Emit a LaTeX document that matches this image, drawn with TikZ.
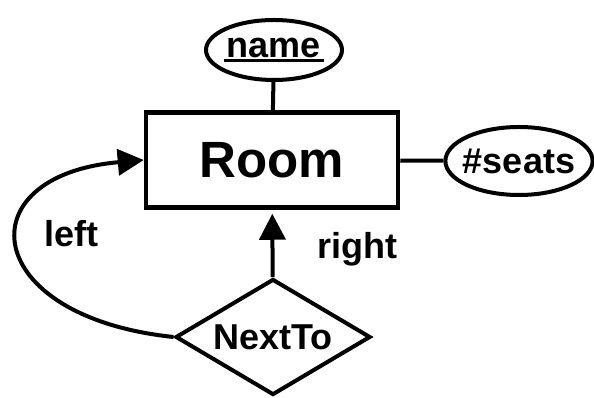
\documentclass[tikz,border=0pt]{standalone}
\usepackage{fontspec}
\setmainfont{Liberation Sans}
\usetikzlibrary{shapes.geometric,arrows.meta}

% thick underline for a key attribute
\newcommand{\keyattr}[1]{\setbox0=\hbox{#1}\rlap{\hspace{-3pt}\rule[-5pt]{\dimexpr\wd0+6pt\relax}{3.5pt}}\box0}

\begin{document}
\begin{tikzpicture}[x=1pt,y=1pt]
  \newcommand{\Xroom}[0]{ 272 }
  \newcommand{\Yroom}[0]{ 238 }
  \newcommand{\Xseats}[0]{ 519 }
  \newcommand{\Yname}[0]{ 348 }
  \newcommand{\Ynextto}[0]{ 61 }
  
  \tikzstyle{edge}  = [line width=4pt,draw=black]
  \tikzstyle{dedge} = [line width=4pt,-{Triangle[length=26pt,width=26pt]},draw=black]
  \tikzstyle{entity}=[
    rectangle,
    draw=black,
    line width=4.5pt,
    minimum width=252pt,
    minimum height=95pt,
    inner sep=0pt,
    font=\fontsize{51}{60}\selectfont\bfseries,
  ]
  \tikzstyle{attr}=[
    ellipse,
    draw=black,
    line width=4pt,
    inner sep=0pt,
    font=\fontsize{36}{42}\selectfont\bfseries,
  ]
  \tikzstyle{relship}=[
    diamond,
    draw=black,
    line width=4pt,
    aspect=1.7,
    inner sep=0pt,
    minimum width=195pt,
    minimum height=116pt,
    font=\fontsize{36}{42}\selectfont\bfseries,
  ]
  \tikzstyle{role}=[inner sep=0pt,font=\fontsize{36}{42}\selectfont\bfseries]
  
  \path[use as bounding box,fill=white] (0,0) rectangle (594,398);
  
  % entity
  \node[entity] (room) at (\Xroom, \Yroom) {Room};
  
  % attributes
  \node[attr,minimum width=136pt,minimum height=60pt] (name) at (274, \Yname) {\keyattr{name}};
  \node[attr,inner xsep=-4pt,minimum height=68pt] (seats) at (\Xseats, 237) {\#seats};
  
  % relationship
  \node[relship] (nextto) at (273, \Ynextto) {NextTo};
  
  % roles
  \node[role] (left) at (71, 164) {left};
  \node[role] (right) at (357, 149) {right};
  
  % wiring
  \draw[edge] (name) -- (room);
  \draw[edge] (room) -- (seats);
  \draw[dedge,shorten >=4pt] (nextto) -- (room);
  \draw[dedge] (nextto.west) .. controls +(174:195) and +(185:180) .. (room.west);
\end{tikzpicture}
\end{document}
